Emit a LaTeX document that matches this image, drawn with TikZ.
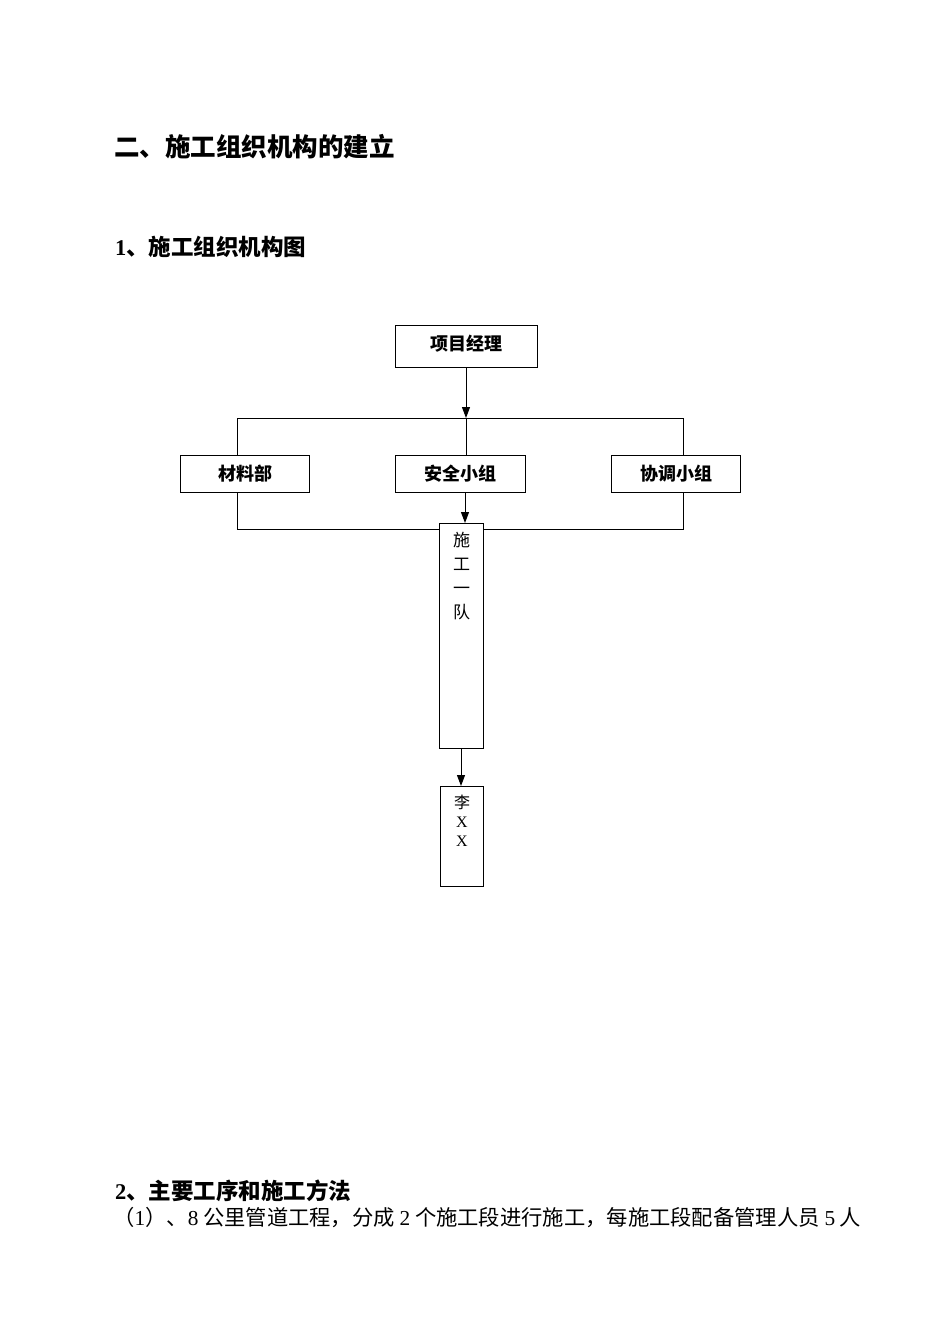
\documentclass[tikz,border=0pt]{standalone}
\usepackage{fontspec}
\newfontfamily\cjk{Noto Sans CJK SC}
\newfontfamily\lser{Liberation Serif}
\usetikzlibrary{arrows.meta}
\begin{document}
\begin{tikzpicture}[x=1pt,y=-1pt,
  orgbox/.style={draw,line width=1pt,inner sep=0pt,anchor=north west},
  boxlabel/.style={font=\cjk\bfseries\fontsize{18}{20}\selectfont},
  conn/.style={line width=1pt},
  arr/.style={line width=1pt,-{Triangle[length=11pt,width=8pt]}},
  vtext/.style={font=\cjk\fontsize{17}{24}\selectfont,align=center,anchor=north,inner sep=0pt}]
\useasboundingbox[fill=white] (0,0) rectangle (950,1344);

% headings
\node[anchor=base west,inner sep=0pt,font=\cjk\bfseries\fontsize{25.5}{28}\selectfont] (title) at (114,156) {二、施工组织机构的建立};
\node[anchor=base west,inner sep=0pt,font=\cjk\bfseries\fontsize{22.5}{26}\selectfont] (sub1) at (115,255) {{\lser\bfseries 1}、施工组织机构图};
\node[anchor=base west,inner sep=0pt,font=\cjk\bfseries\fontsize{22.5}{24}\selectfont] (sub2) at (115,1199) {{\lser\bfseries 2}、主要工序和施工方法};
\node[anchor=base west,inner sep=0pt,font=\cjk\fontsize{21.3}{24}\selectfont] (body) at (113,1225) {（{\lser 1}）、{\lser 8} 公里管道工程，分成 {\lser 2} 个施工段进行施工，每施工段配备管理人员 {\lser 5} 人};

% boxes
\node[orgbox,minimum width=142pt,minimum height=42pt] (pm) at (395,325) {};
\node[boxlabel] at ([yshift=3pt]pm.center) {项目经理};
\node[orgbox,minimum width=129pt,minimum height=37pt] (cl) at (180,455) {};
\node[boxlabel] at (cl.center) {材料部};
\node[orgbox,minimum width=130pt,minimum height=37pt] (aq) at (395,455) {};
\node[boxlabel] at (aq.center) {安全小组};
\node[orgbox,minimum width=129pt,minimum height=37pt] (xt) at (611,455) {};
\node[boxlabel] at (xt.center) {协调小组};
\node[orgbox,minimum width=44pt,minimum height=225pt] (team) at (439,523) {};
\node[vtext] at ([yshift=-9pt]team.north) {施\\工\\一\\队};
\node[orgbox,minimum width=43pt,minimum height=100pt] (li) at (440,786) {};
\node[vtext,font=\cjk\fontsize{16}{19}\selectfont] at ([yshift=-9pt]li.north) {李\\{\lser X}\\{\lser X}};

% connectors
\coordinate (hl) at (237,418);
\coordinate (hr) at (683,418);
\coordinate (hm) at (466,418);
\coordinate (bl) at (237,529);
\coordinate (br) at (683,529);
\draw[conn] (hl) -- (hr);
\draw[arr] (pm.south -| hm) -- (hm);
\draw[conn] (hm) -- (hm |- aq.north);
\draw[conn] (hl) -- (hl |- cl.north);
\draw[conn] (hr) -- (hr |- xt.north);
\draw[conn] (cl.south -| bl) -- (bl) -- (bl -| team.west);
\draw[conn] (xt.south -| br) -- (br) -- (br -| team.east);
\draw[arr] (aq.south -| 465,0) -- (team.north -| 465,0);
\draw[arr] (team.south -| 461,0) -- (li.north -| 461,0);
\end{tikzpicture}
\end{document}
